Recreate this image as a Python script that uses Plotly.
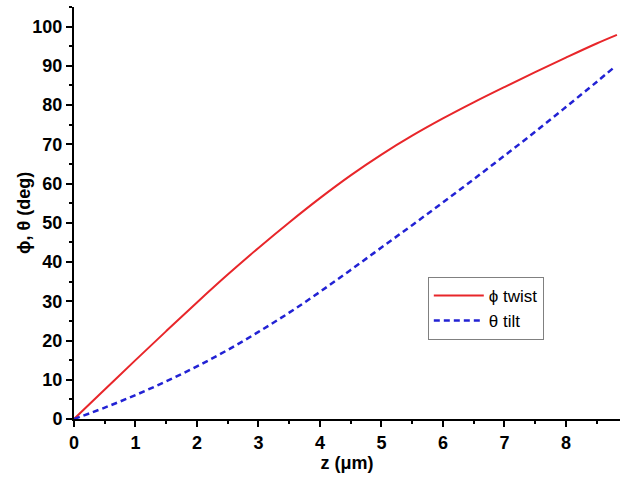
import plotly.graph_objects as go

z_twist = [0, 0.5, 1, 1.5, 2, 2.5, 3, 3.5, 4, 4.5, 5, 5.5, 6, 6.5, 7, 7.5, 8, 8.5, 8.83]
phi_twist = [0, 7.5, 15.0, 22.4, 29.7, 36.8, 43.6, 50.1, 56.3, 62.1, 67.4, 72.2, 76.6, 80.7, 84.6, 88.4, 92.1, 95.7, 97.9]

z_tilt = [0, 0.5, 1, 1.5, 2, 2.5, 3, 3.5, 4, 4.5, 5, 5.5, 6, 6.5, 7, 7.5, 8, 8.5, 8.76]
theta_tilt = [0, 2.9, 6.1, 9.6, 13.4, 17.6, 22.2, 27.1, 32.4, 38.0, 43.7, 49.4, 55.2, 61.1, 67.1, 73.2, 79.5, 85.9, 89.3]

fig = go.Figure()
fig.add_trace(go.Scatter(x=z_twist, y=phi_twist, mode="lines", name="ϕ twist",
                         line=dict(color="#e8262a", width=2, shape="spline")))
fig.add_trace(go.Scatter(x=z_tilt, y=theta_tilt, mode="lines", name="θ tilt",
                         line=dict(color="#2222d4", width=2.5, dash="6px,4px", shape="spline")))

font_family = "Liberation Sans, Arial"
axis_common = dict(showline=True, linecolor="black", linewidth=2, ticks="outside",
                   tickcolor="black", tickwidth=2, ticklen=6, showgrid=False, zeroline=False,
                   tickfont=dict(family=font_family, size=18, color="black", weight="bold"),
                   mirror=False, automargin=False)

fig.update_layout(
    width=630, height=484,
    margin=dict(l=74, r=10, t=7, b=65),
    paper_bgcolor="white", plot_bgcolor="white",
    xaxis=dict(range=[0, 8.88], dtick=1, tick0=0,
               minor=dict(dtick=0.5, ticks="outside", ticklen=3, tickcolor="black", tickwidth=1.5),
               title=dict(text="z (μm)", font=dict(family=font_family, size=18, color="black", weight="bold"), standoff=4),
               **axis_common),
    yaxis=dict(range=[0, 105], dtick=10, tick0=0,
               minor=dict(dtick=5, ticks="outside", ticklen=3, tickcolor="black", tickwidth=1.5),
               **axis_common),
    legend=dict(x=0.648, y=0.345, xanchor="left", yanchor="top",
                bordercolor="#808080", borderwidth=1, bgcolor="white",
                font=dict(family=font_family, size=17, color="black"),
                tracegroupgap=0, itemwidth=50),
    showlegend=True,
    annotations=[dict(text="ϕ, θ (deg)", textangle=-90, xref="paper", yref="paper",
                      x=-0.0916, y=0.5, xanchor="center", yanchor="middle", showarrow=False,
                      font=dict(family=font_family, size=18, color="black", weight="bold"))],
)

fig.write_html("out.html", config={"displayModeBar": False},
               post_script="document.body.style.margin='0';document.body.style.padding='0';")
